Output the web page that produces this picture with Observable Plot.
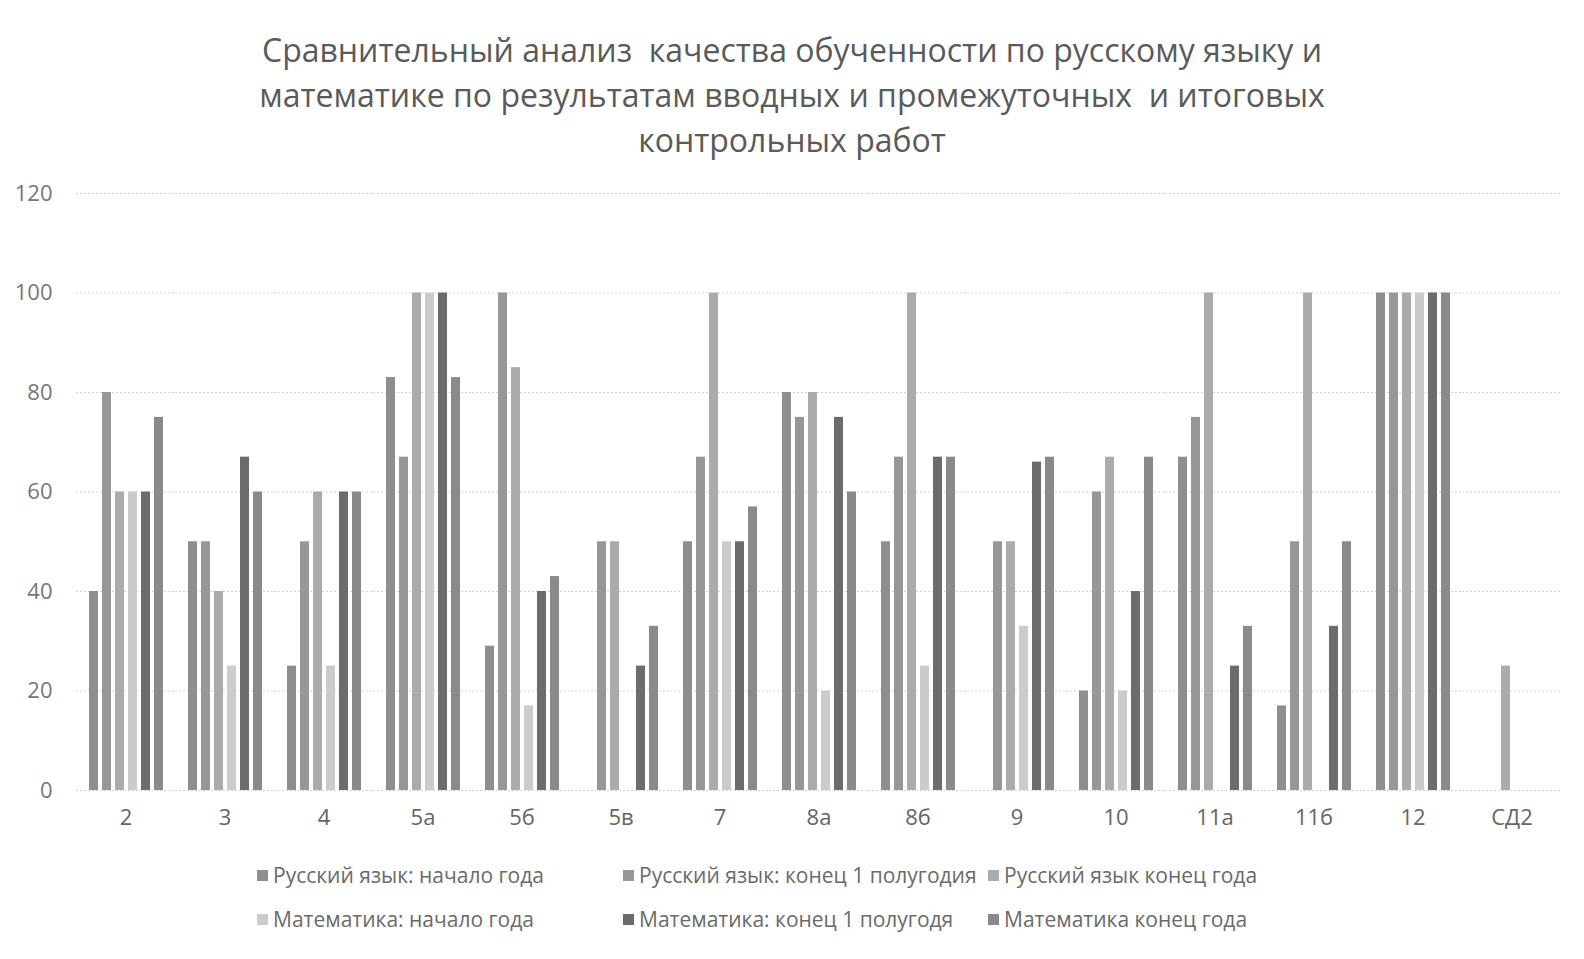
<!DOCTYPE html>
<html>
<head>
<meta charset="utf-8">
<script src="https://cdn.jsdelivr.net/npm/d3@7"></script>
<script src="https://cdn.jsdelivr.net/npm/@observablehq/plot@0.6"></script>
<style>
  html, body { margin: 0; padding: 0; background: #fff; overflow: hidden; }
  body { width: 1584px; height: 959px; position: relative; font-family: "Open Sans", "Liberation Sans", sans-serif; }
  #title { position: absolute; left: 0; top: 27px; width: 1584px; text-align: center; color: #5a5a5a; font-size: 32px; line-height: 45px; }
  #chart { position: absolute; left: 0; top: 170px; width: 1584px; }
  #chart svg { max-width: none !important; }
  #legend { position: absolute; left: 257px; top: 860px; display: grid; grid-template-columns: 366px 365px 400px; row-gap: 14px; color: #6a6a6a; font-size: 21px; }
  .item { display: flex; align-items: center; white-space: nowrap; height: 30px; }
  .sw { width: 11px; height: 11px; margin-right: 5px; display: inline-block; }
</style>
</head>
<body>
<div id="title">Сравнительный анализ&nbsp; качества обученности по русскому языку и<br>математике по результатам вводных и промежуточных&nbsp; и итоговых<br>контрольных работ</div>
<div id="chart"></div>
<div id="legend"></div>
<script>
const classes = ["2","3","4","5а","5б","5в","7","8а","8б","9","10","11а","11б","12","СД2"];
const seriesNames = [
  "Русский язык: начало года",
  "Русский язык: конец 1 полугодия",
  "Русский язык конец года",
  "Математика: начало года",
  "Математика: конец 1 полугодя",
  "Математика конец года"
];
const rusStart  = [40, 50, 25,  83,  29,  0,  50, 80,  50,  0, 20,  67,  17, 100,  0];
const rusHalf   = [80, 50, 50,  67, 100, 50,  67, 75,  67, 50, 60,  75,  50, 100,  0];
const rusEnd    = [60, 40, 60, 100,  85, 50, 100, 80, 100, 50, 67, 100, 100, 100, 25];
const mathStart = [60, 25, 25, 100,  17,  0,  50, 20,  25, 33, 20,   0,   0, 100,  0];
const mathHalf  = [60, 67, 60, 100,  40, 25,  50, 75,  67, 66, 40,  25,  33, 100,  0];
const mathEnd   = [75, 60, 60,  83,  43, 33,  57, 60,  67, 67, 67,  33,  50, 100,  0];
const yTicks = [0, 20, 40, 60, 80, 100, 120];
const colors = ["#8e8e8e", "#979797", "#ababab", "#cbcbcb", "#6c6c6c", "#8a8a8a"];

const seriesValues = [rusStart, rusHalf, rusEnd, mathStart, mathHalf, mathEnd];
const data = [];
classes.forEach((c, i) => {
  seriesNames.forEach((s, j) => {
    data.push({cls: c, series: s, value: seriesValues[j][i]});
  });
});

const chart = Plot.plot({
  width: 1584,
  height: 665,
  marginLeft: 72,
  marginRight: 19,
  marginTop: 23,
  marginBottom: 45,
  style: {fontFamily: "'Open Sans', sans-serif", fontSize: "22px", color: "#6a6a6a", background: "#fff"},
  fx: {domain: classes, padding: 0, label: null},
  x: {domain: seriesNames, axis: null, paddingInner: 0.32, paddingOuter: 0.9},
  y: {domain: [0, 120], ticks: yTicks, label: null},
  color: {domain: seriesNames, range: colors},
  marks: [
    Plot.gridY(yTicks, {stroke: "#c8c8c8", strokeOpacity: 0.8, strokeDasharray: "2,2"}),
    Plot.axisY(yTicks, {tickSize: 0, tickPadding: 24, label: null, fill: "#777", fontSize: 22}),
    Plot.axisFx({anchor: "bottom", tickSize: 0, tickPadding: 19, label: null, fill: "#666", fontSize: 22}),
    Plot.barY(data, {fx: "cls", x: "series", y: "value", fill: "series"})
  ]
});
document.getElementById("chart").appendChild(chart);

const legend = document.getElementById("legend");
const order = [0, 1, 2, 3, 4, 5];
order.forEach(j => {
  const d = document.createElement("div");
  d.className = "item";
  d.innerHTML = `<span class="sw" style="background:${colors[j]}"></span>${seriesNames[j]}`;
  legend.appendChild(d);
});
</script>
</body>
</html>
